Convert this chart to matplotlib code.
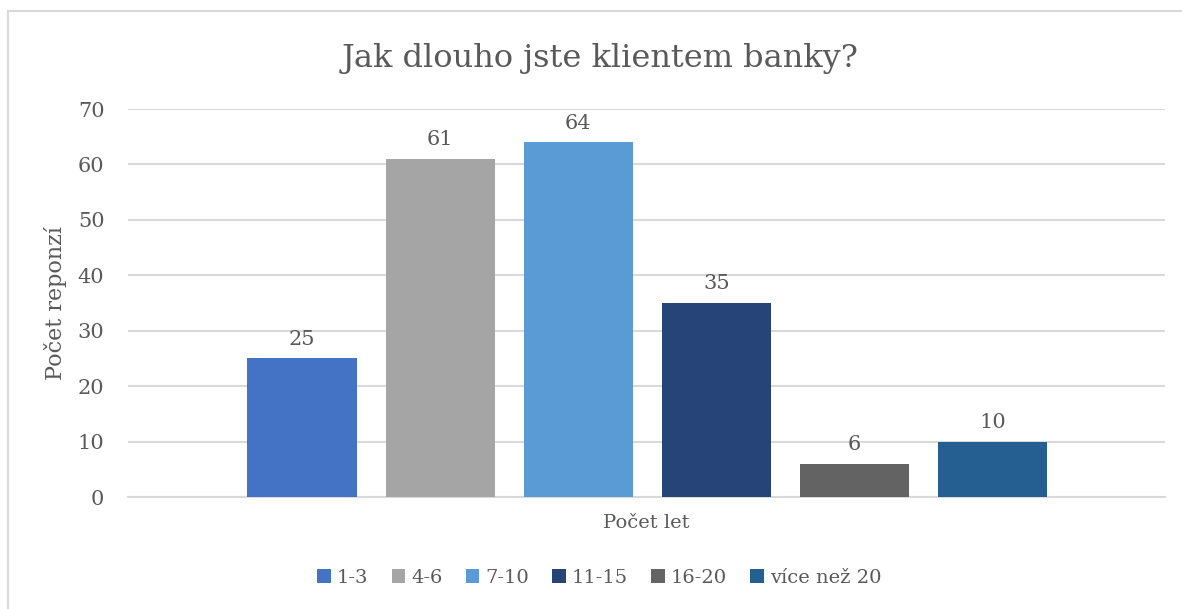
import matplotlib.pyplot as plt
import matplotlib.lines as mlines
import numpy as np

# data
categories = ["1-3", "4-6", "7-10", "11-15", "16-20", "více než 20"]
values = [25, 61, 64, 35, 6, 10]
bar_colors = ["#4472C4", "#A5A5A5", "#5B9BD5", "#264478", "#636363", "#255E91"]
yticks = [0, 10, 20, 30, 40, 50, 60, 70]

txt = "#595959"
grid = "#D9D9D9"
plt.rcParams['font.family'] = ['DejaVu Serif']

fig = plt.figure(figsize=(11.82, 6.09), dpi=100)
ax = fig.add_axes([0.1083, 0.1839, 0.8773, 0.6371])

x = np.arange(len(categories))
bars = ax.bar(x, values, width=0.79, color=bar_colors, zorder=3)
for i, b in enumerate(bars):
    b.set_label(categories[i])
    ax.annotate(str(values[i]), (x[i], values[i]), xytext=(0, 7),
                textcoords="offset points", ha="center", va="bottom",
                fontsize=15, color=txt)

ax.set_xlim(-1.26, 6.25)
ax.set_ylim(0, 70)
ax.set_yticks(yticks)
ax.set_xticks([])
ax.yaxis.grid(True, color=grid, linewidth=1.5, zorder=0)
for s in ["top", "right", "left"]:
    ax.spines[s].set_visible(False)
ax.spines["bottom"].set_color(grid)
ax.spines["bottom"].set_linewidth(1.5)
ax.tick_params(axis="y", length=0, pad=17, labelsize=15, labelcolor=txt)

ax.set_ylabel("Počet reponzí", fontsize=16, color=txt, labelpad=8)
ax.set_xlabel("Počet let", fontsize=14, color=txt, labelpad=12)
fig.suptitle("Jak dlouho jste klientem banky?", x=0.508, y=0.93, fontsize=23, color=txt)

fig.legend(handles=list(bars), labels=categories, loc="center", ncol=6,
           bbox_to_anchor=(0.507, 0.051), frameon=False, fontsize=14,
           handlelength=0.7, handleheight=0.7, handletextpad=0.3,
           columnspacing=1.2, labelcolor=txt)

# chart border (only top and left visible)
bx, by = 8 / 1182, 1 - 11 / 609
fig.lines.append(mlines.Line2D([bx, 1.0], [by, by], transform=fig.transFigure,
                               color=grid, linewidth=1.5))
fig.lines.append(mlines.Line2D([bx, bx], [0.0, by], transform=fig.transFigure,
                               color=grid, linewidth=1.5))

fig.savefig("out.png", dpi=100)
